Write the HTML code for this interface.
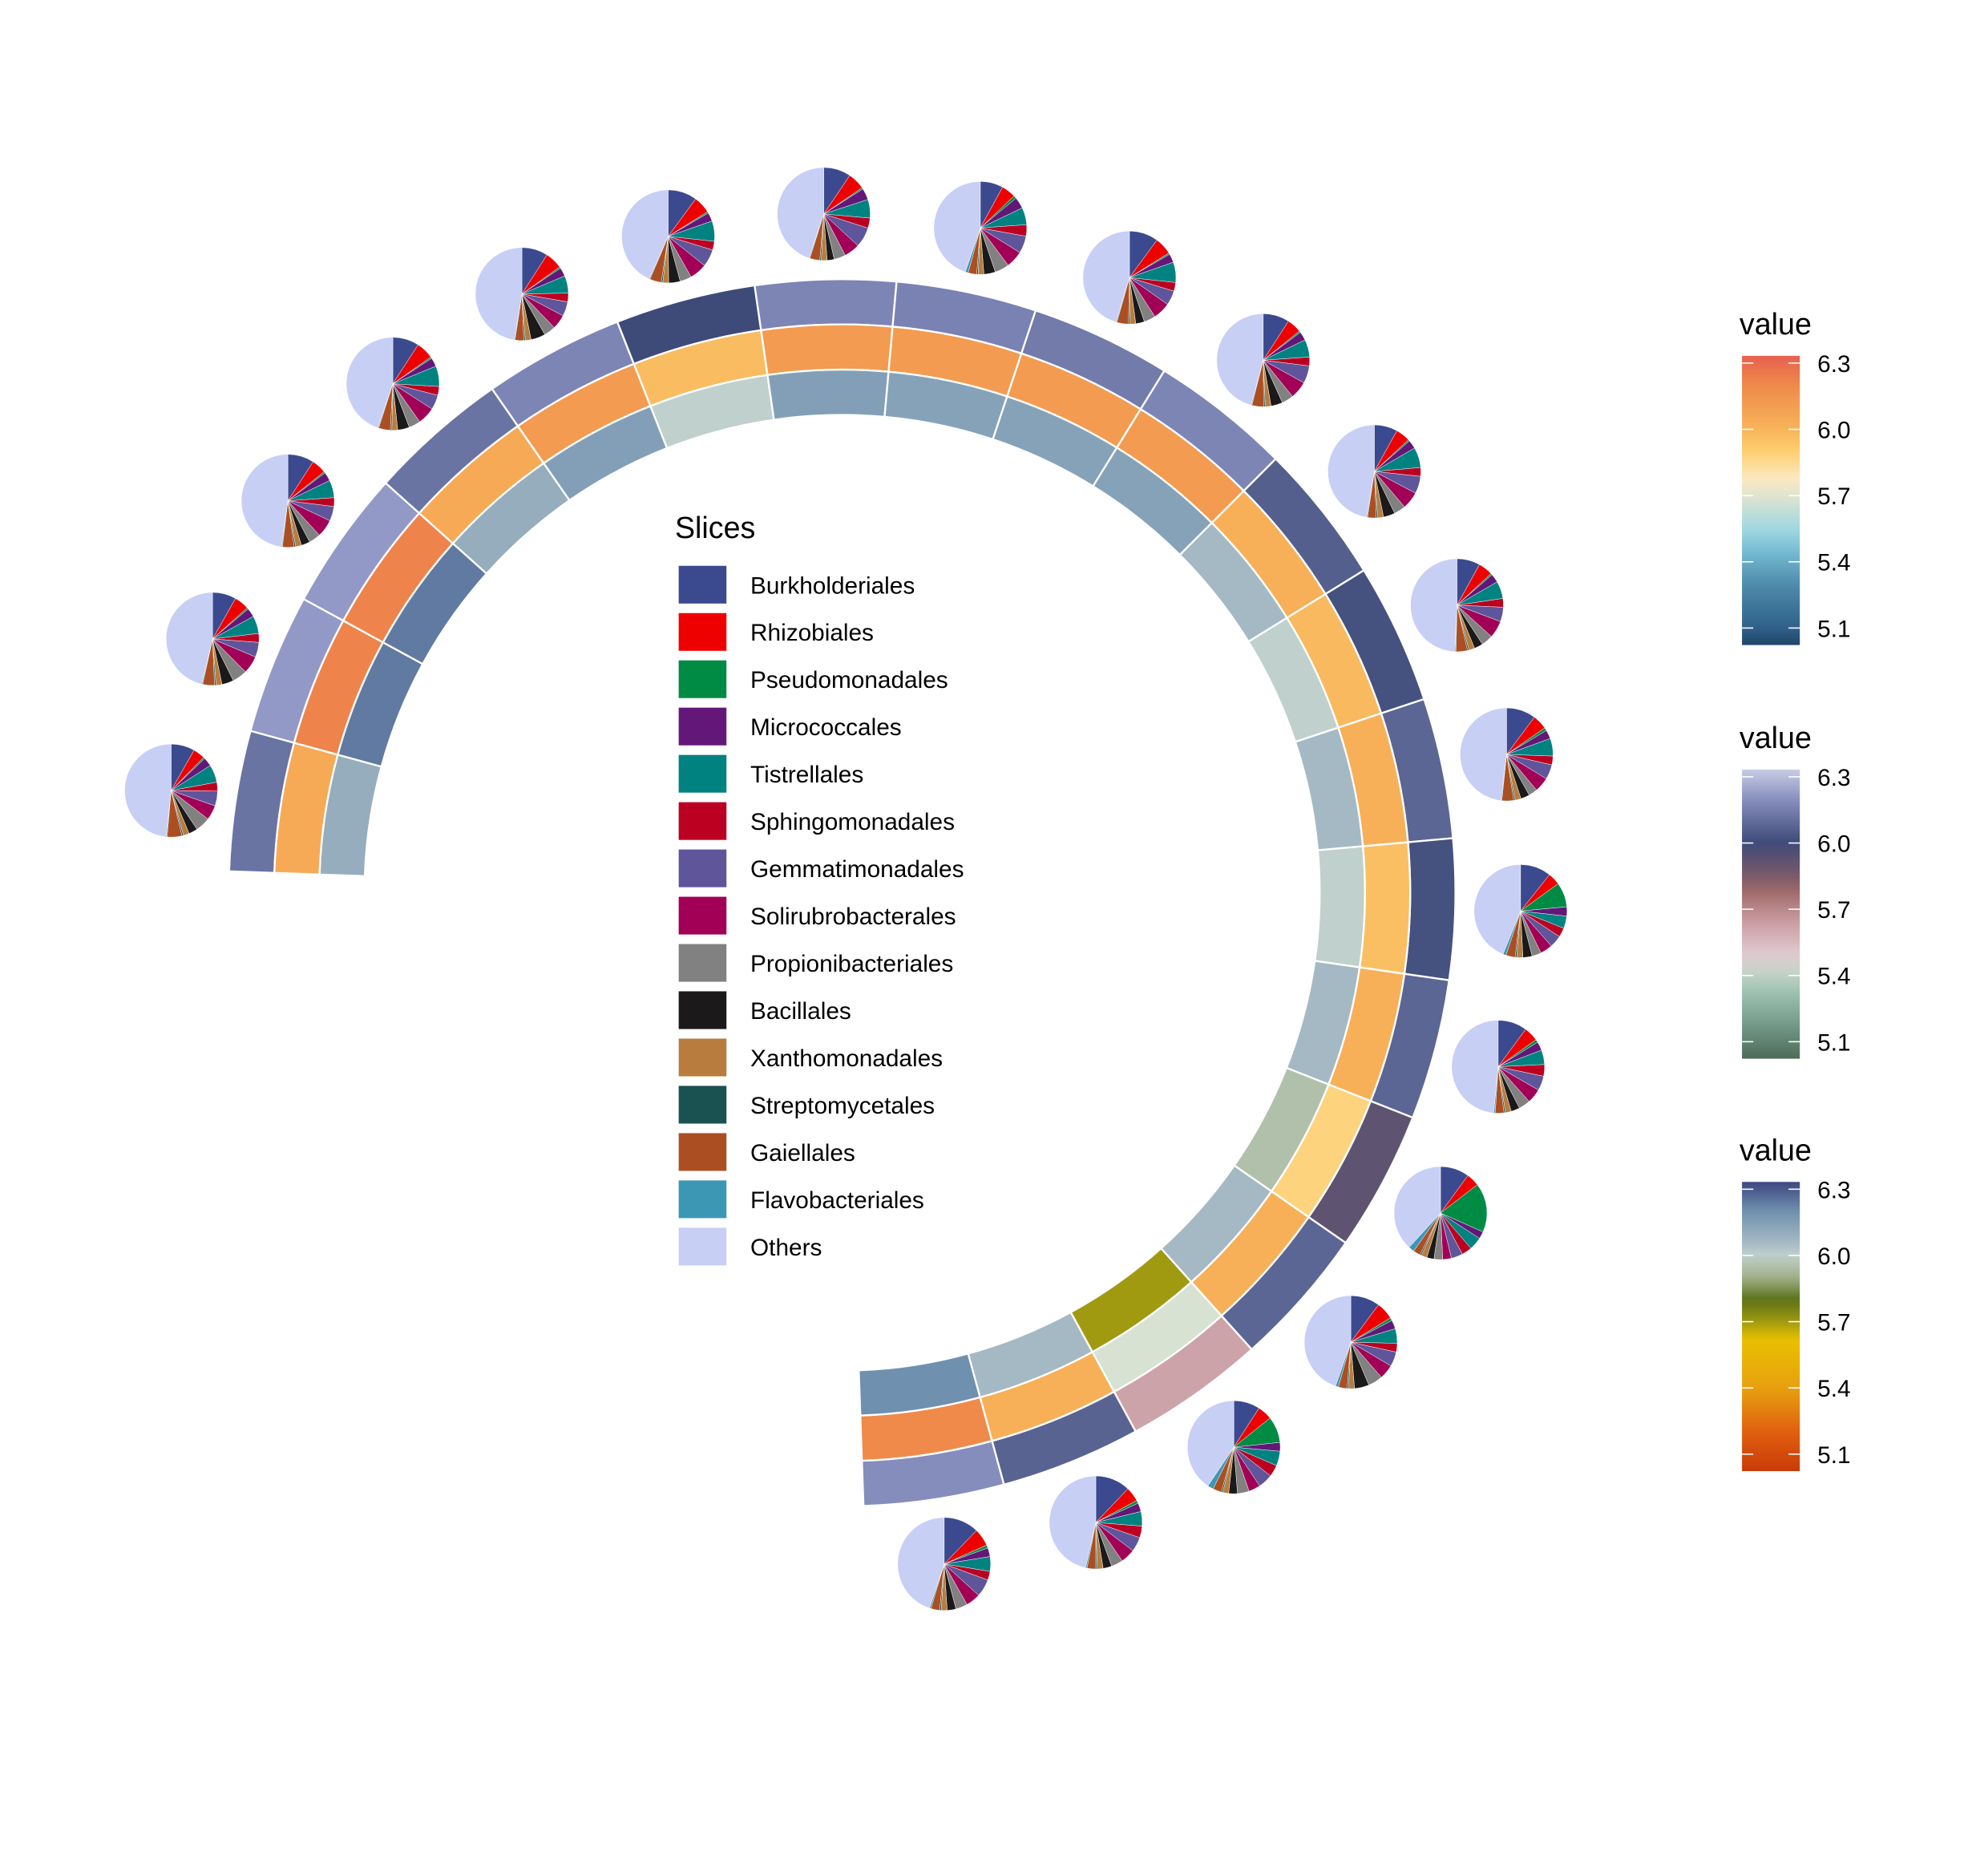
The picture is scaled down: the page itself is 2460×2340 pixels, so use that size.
<!DOCTYPE html>
<html><head><meta charset="utf-8"><style>
html,body{margin:0;padding:0;background:#fff}
svg{display:block}
text{font-family:"Liberation Sans",Arial,sans-serif}
</style></head><body>
<svg id="chart" width="2460" height="2340" viewBox="0 0 1569 1492" preserveAspectRatio="none" xmlns="http://www.w3.org/2000/svg">
<g id="rings"></g>
<g id="pies"></g>
<g id="legend"></g>
<g id="bars"></g>
</svg>
<script>
const outerValues=[6.12,6.22,6.22,6.12,6.17,6.0,6.17,6.16,6.14,6.17,6.06,6.02,6.08,6.02,6.08,5.92,6.08,5.62,6.07,6.19];
const middleValues=[6.05,6.22,6.22,6.05,6.12,5.97,6.12,6.12,6.12,6.12,6.02,5.98,6.02,5.96,6.02,5.88,6.02,5.68,6.02,6.2];
const innerValues=[6.1,6.24,6.24,6.1,6.15,6.0,6.15,6.14,6.14,6.14,6.06,6.0,6.06,6.0,6.06,5.95,6.06,5.7,6.06,6.2];
const sliceNames=["Burkholderiales","Rhizobiales","Pseudomonadales","Micrococcales","Tistrellales","Sphingomonadales","Gemmatimonadales","Solirubrobacterales","Propionibacteriales","Bacillales","Xanthomonadales","Streptomycetales","Gaiellales","Flavobacteriales","Others"];
const sliceColors=["#3b4a8f","#ee0000","#008b45","#631879","#008280","#bb0021","#5f559b","#a20056","#808180","#1b1919","#b87d3e","#1a5151","#ab4f23","#3c97b4","#c8cff5"];
const pieValues=[
[0.08,0.04,0.005,0.03,0.06,0.03,0.05,0.05,0.05,0.03,0.02,0.005,0.05,0.003,0.47],
[0.08,0.05,0.005,0.03,0.06,0.03,0.05,0.06,0.05,0.04,0.02,0.005,0.04,0.003,0.45],
[0.09,0.05,0.005,0.03,0.06,0.03,0.05,0.06,0.04,0.03,0.02,0.005,0.04,0.003,0.47],
[0.09,0.06,0.005,0.03,0.07,0.03,0.05,0.06,0.04,0.04,0.02,0.005,0.04,0.003,0.44],
[0.09,0.06,0.005,0.03,0.06,0.03,0.05,0.05,0.04,0.05,0.02,0.005,0.03,0.003,0.47],
[0.1,0.06,0.005,0.03,0.07,0.03,0.06,0.06,0.04,0.04,0.02,0.005,0.04,0.003,0.43],
[0.095,0.06,0.005,0.04,0.065,0.035,0.07,0.055,0.04,0.025,0.02,0.005,0.035,0.003,0.45],
[0.08,0.05,0.01,0.04,0.06,0.04,0.06,0.06,0.05,0.04,0.02,0.005,0.03,0.01,0.45],
[0.1,0.06,0.005,0.03,0.07,0.03,0.05,0.06,0.04,0.03,0.02,0.005,0.04,0.003,0.45],
[0.09,0.05,0.005,0.03,0.06,0.03,0.06,0.06,0.04,0.04,0.02,0.005,0.04,0.003,0.45],
[0.08,0.05,0.005,0.03,0.07,0.03,0.06,0.06,0.04,0.04,0.02,0.005,0.03,0.003,0.47],
[0.08,0.05,0.005,0.03,0.06,0.03,0.05,0.06,0.04,0.03,0.02,0.005,0.04,0.003,0.49],
[0.1,0.05,0.01,0.03,0.06,0.03,0.05,0.05,0.03,0.03,0.02,0.005,0.04,0.003,0.47],
[0.1,0.04,0.08,0.03,0.04,0.03,0.04,0.04,0.03,0.03,0.02,0.005,0.03,0.01,0.41],
[0.1,0.05,0.01,0.03,0.05,0.04,0.05,0.05,0.04,0.03,0.02,0.005,0.03,0.005,0.48],
[0.1,0.045,0.17,0.025,0.045,0.035,0.04,0.03,0.03,0.025,0.02,0.005,0.025,0.02,0.38],
[0.1,0.06,0.01,0.03,0.05,0.03,0.05,0.05,0.05,0.05,0.02,0.005,0.03,0.01,0.44],
[0.09,0.05,0.09,0.03,0.05,0.04,0.05,0.04,0.04,0.03,0.02,0.005,0.03,0.02,0.40],
[0.12,0.05,0.01,0.03,0.05,0.04,0.05,0.05,0.04,0.03,0.02,0.005,0.03,0.005,0.46],
[0.12,0.06,0.01,0.03,0.05,0.03,0.06,0.05,0.04,0.03,0.02,0.005,0.03,0.005,0.44]
];
const tickLabels=[6.3,6.0,5.7,5.4,5.1];
const scaleMiddle=[[6.33,"#e8604f"],[6.2,"#ef8a4a"],[6.0,"#f8b45a"],[5.9,"#fdcf70"],[5.78,"#fde8c0"],[5.7,"#e0e4d0"],[5.55,"#a0d8e0"],[5.45,"#78bcd4"],[5.3,"#4e8cac"],[5.1,"#30608a"],[5.02,"#1f4468"]];
const scaleOuter=[[6.33,"#c8cce4"],[6.2,"#8890c0"],[6.0,"#3e4a78"],[5.85,"#7a5a6a"],[5.78,"#a06a6a"],[5.65,"#c89aa0"],[5.5,"#e0c8d0"],[5.42,"#c8d4c8"],[5.35,"#a8c8b8"],[5.2,"#78a090"],[5.02,"#4e6a58"]];
const scaleInner=[[6.33,"#3e4880"],[6.2,"#7090b0"],[6.05,"#a8bcc4"],[6.0,"#c0d0cc"],[5.9,"#a0b088"],[5.8,"#5a7018"],[5.7,"#a09a10"],[5.62,"#e8c000"],[5.4,"#e8a010"],[5.2,"#e06010"],[5.02,"#c83a08"]];

const NS="http://www.w3.org/2000/svg";
const CX=670,CY=710,START=-88,SPAN=266,PIE_R=540,PIE_SIZE=37;
function hex(c){return [1,3,5].map(i=>parseInt(c.substr(i,2),16));}
function colorAt(scale,v){
  if(v>=scale[0][0])return scale[0][1];
  for(let i=0;i<scale.length-1;i++){const [a,ca]=scale[i],[b,cb]=scale[i+1];
    if(v<=a&&v>=b){const t=(a-v)/(a-b),A=hex(ca),B=hex(cb);
      return "rgb("+A.map((x,k)=>Math.round(x+(B[k]-x)*t)).join(",")+")";}}
  return scale[scale.length-1][1];
}
function pt(r,deg){const a=deg*Math.PI/180;return [CX+r*Math.sin(a),CY-r*Math.cos(a)];}
function angleOf(i,n){return START+SPAN*i/n;}
function sector(r0,r1,a0,a1){
  const p1=pt(r1,a0),p2=pt(r1,a1),p3=pt(r0,a1),p4=pt(r0,a0);const lg=(a1-a0)>180?1:0;
  return `M${p1[0]},${p1[1]}A${r1},${r1} 0 ${lg} 1 ${p2[0]},${p2[1]}L${p3[0]},${p3[1]}A${r0},${r0} 0 ${lg} 0 ${p4[0]},${p4[1]}Z`;
}
const rings=document.getElementById('rings');
const ringDefs=[[outerValues,scaleOuter,452,488,'outer'],[middleValues,scaleMiddle,416,452,'middle'],[innerValues,scaleInner,380,416,'inner']];
ringDefs.forEach(([vals,sc,r0,r1,nm])=>{
  const n=vals.length;
  vals.forEach((v,i)=>{
    const p=document.createElementNS(NS,'path');
    p.setAttribute('d',sector(r0,r1,angleOf(i,n),angleOf(i+1,n)));
    p.setAttribute('fill',colorAt(sc,v));
    p.setAttribute('stroke','#fff');p.setAttribute('stroke-width','1.5');
    
    
    rings.appendChild(p);
  });
});
const pies=document.getElementById('pies');
pieValues.forEach((row,i)=>{
  const n=pieValues.length;const c=pt(PIE_R,angleOf(i+0.5,n));
  const g=document.createElementNS(NS,'g');
  
  
  const tot=row.reduce((a,b)=>a+b,0);let acc=0;
  row.forEach((v,k)=>{
    const a0=acc/tot*360;acc+=v;const a1=acc/tot*360;
    const s=a=>[c[0]+PIE_SIZE*Math.sin(a*Math.PI/180),c[1]-PIE_SIZE*Math.cos(a*Math.PI/180)];
    const p0=s(a0),p1=s(a1);
    const p=document.createElementNS(NS,'path');
    p.setAttribute('d',`M${c[0]},${c[1]}L${p0[0]},${p0[1]}A${PIE_SIZE},${PIE_SIZE} 0 ${(a1-a0)>180?1:0} 1 ${p1[0]},${p1[1]}Z`);
    p.setAttribute('fill',sliceColors[k]);p.setAttribute('stroke','#fff');p.setAttribute('stroke-width','0.3');
    
    
    g.appendChild(p);
  });
  pies.appendChild(g);
});
const lg=document.getElementById('legend');
let t=document.createElementNS(NS,'text');t.setAttribute('x',537);t.setAttribute('y',428);t.setAttribute('font-size','24');t.textContent='Slices';


lg.appendChild(t);
sliceNames.forEach((nm,k)=>{
  const y=450+k*37.6;
  const r=document.createElementNS(NS,'rect');r.setAttribute('x',540);r.setAttribute('y',y);r.setAttribute('width',38);r.setAttribute('height',30);r.setAttribute('fill',sliceColors[k]);
  
  
  lg.appendChild(r);
  const tx=document.createElementNS(NS,'text');tx.setAttribute('x',597);tx.setAttribute('y',y+22);tx.setAttribute('font-size','19');tx.textContent=nm;
  
  
  lg.appendChild(tx);
});
const bars=document.getElementById('bars');
const defs=document.createElementNS(NS,'defs');bars.appendChild(defs);
const VMAX=6.333,VMIN=5.023;
[[scaleMiddle,258],[scaleOuter,587],[scaleInner,915]].forEach(([sc,ty],j)=>{
  const top=ty+25,bot=top+230,x0=1386,w=46;
  const gr=document.createElementNS(NS,'linearGradient');gr.setAttribute('id','g'+j);
  gr.setAttribute('x1',0);gr.setAttribute('y1',0);gr.setAttribute('x2',0);gr.setAttribute('y2',1);
  for(let s=0;s<=40;s++){const v=VMAX-(VMAX-VMIN)*s/40;const st=document.createElementNS(NS,'stop');st.setAttribute('offset',s/40);st.setAttribute('stop-color',colorAt(sc,v));gr.appendChild(st);}
  defs.appendChild(gr);
  const tt=document.createElementNS(NS,'text');tt.setAttribute('x',1384);tt.setAttribute('y',ty+8);tt.setAttribute('font-size','24');tt.textContent='value';
  
  
  bars.appendChild(tt);
  const r=document.createElementNS(NS,'rect');r.setAttribute('x',x0);r.setAttribute('y',top);r.setAttribute('width',w);r.setAttribute('height',230);r.setAttribute('fill','url(#g'+j+')');
  
  
  bars.appendChild(r);
  tickLabels.forEach(v=>{
    const y=top+(VMAX-v)/(VMAX-VMIN)*230;
    [[x0,x0+9],[x0+w-9,x0+w]].forEach(([a,b])=>{const l=document.createElementNS(NS,'line');l.setAttribute('x1',a);l.setAttribute('x2',b);l.setAttribute('y1',y);l.setAttribute('y2',y);l.setAttribute('stroke','#fff');l.setAttribute('stroke-width','1');bars.appendChild(l);});
    const tx=document.createElementNS(NS,'text');tx.setAttribute('x',1446);tx.setAttribute('y',y+7);tx.setAttribute('font-size','19');tx.textContent=v.toFixed(1);
    
    
    bars.appendChild(tx);
  });
});
</script>
</body></html>
